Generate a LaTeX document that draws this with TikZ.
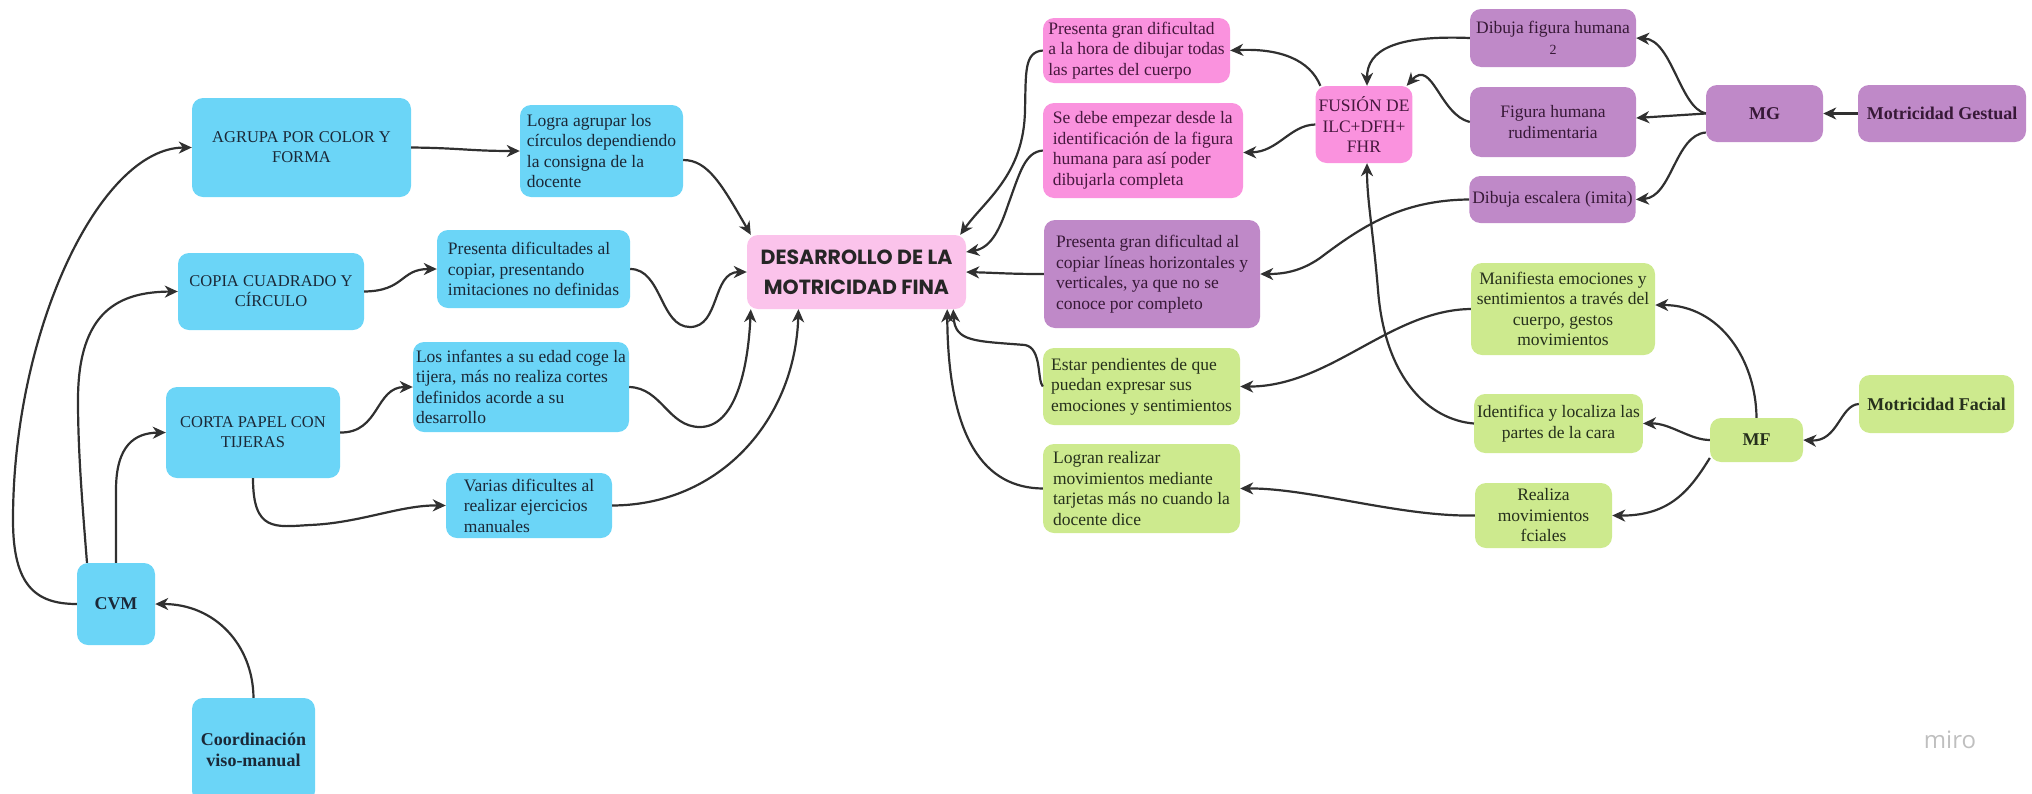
\documentclass[tikz,border=0pt]{standalone}
\usepackage{fontspec}
\setmainfont{Liberation Serif}
\newfontfamily\titlefont{Poppins}
\newfontfamily\mirofont{Open Sans}
\usetikzlibrary{arrows.meta}
\definecolor{cblue}{RGB}{107,213,247}
\definecolor{cpink}{RGB}{251,195,235}
\definecolor{chot}{RGB}{250,146,222}
\definecolor{cpurple}{RGB}{191,137,200}
\definecolor{cgreen}{RGB}{205,234,142}
\definecolor{cline}{RGB}{48,48,48}
\definecolor{tblue}{RGB}{27,40,55}
\definecolor{tpink}{RGB}{70,24,62}
\definecolor{tpurple}{RGB}{55,25,55}
\definecolor{tgreen}{RGB}{38,48,28}
\tikzset{
  box/.style={rounded corners=11pt, inner sep=3pt, align=center, anchor=center,
    font=\fontsize{17.5}{20.5}\selectfont},
  leftt/.style={align=left},
  capf/.style={font=\fontsize{16.5}{20}\selectfont},
  boldf/.style={font=\bfseries\fontsize{18}{21}\selectfont},
  bluebox/.style={box, fill=cblue, text=tblue},
  pinkbox/.style={box, fill=cpink, text=black!85},
  hotbox/.style={box, fill=chot, text=tpink},
  purplebox/.style={box, fill=cpurple, text=tpurple},
  greenbox/.style={box, fill=cgreen, text=tgreen},
  arr/.style={draw=cline, line width=2.2pt, -{Stealth[length=13pt,width=12pt,inset=4pt]}},
}
\begin{document}
\begin{tikzpicture}[x=1pt,y=-1pt]
\useasboundingbox (0,0) rectangle (2032,793);
% ---------- blue (left) ----------
\node[bluebox,capf,minimum width=219pt,minimum height=99pt] (agrupa) at (301.5,147.5) {AGRUPA POR COLOR Y\\FORMA};
\node[bluebox,leftt,minimum width=163pt,minimum height=92pt] (logra) at (601.5,151) {Logra agrupar los\\círculos dependiendo\\la consigna de la\\docente};
\node[bluebox,capf,minimum width=186pt,minimum height=77pt] (copia) at (271,291.5) {COPIA CUADRADO Y\\CÍRCULO};
\node[bluebox,leftt,minimum width=193pt,minimum height=78pt] (presdif) at (533.5,269) {Presenta dificultades al\\copiar, presentando\\imitaciones no definidas};
\node[bluebox,capf,minimum width=174pt,minimum height=91pt] (corta) at (253,432.5) {CORTA PAPEL CON\\TIJERAS};
\node[bluebox,leftt,minimum width=216pt,minimum height=90pt] (infantes) at (521,387) {Los infantes a su edad coge la\\tijera, más no realiza cortes\\definidos acorde a su\\desarrollo};
\node[bluebox,leftt,minimum width=166pt,minimum height=65pt] (varias) at (529,505.5) {Varias dificultes al\\realizar ejercicios\\manuales};
\node[bluebox,boldf,minimum width=78pt,minimum height=82pt] (cvm) at (116,604) {CVM};
\node[bluebox,boldf,minimum width=123pt,minimum height=104pt] (coord) at (253.5,750) {Coordinación\\viso-manual};
% ---------- centre ----------
\node[pinkbox,font=\titlefont\bfseries\fontsize{20.5}{30}\selectfont,inner sep=2pt,minimum width=219pt,minimum height=74pt] (desarrollo) at (856.5,272) {DESARROLLO DE LA\\MOTRICIDAD FINA};
% ---------- pink ----------
\node[hotbox,leftt,minimum width=187pt,minimum height=65pt] (preshora) at (1136.5,50.5) {Presenta gran dificultad\\a la hora de dibujar todas\\las partes del cuerpo};
\node[hotbox,leftt,minimum width=200pt,minimum height=95pt] (sedebe) at (1143,150.5) {Se debe empezar desde la\\identificación de la figura\\humana para así poder\\dibujarla completa};
\node[hotbox,minimum width=94pt,minimum height=77pt] (fusion) at (1364,124.5) {FUSIÓN DE\\ILC+DFH+\\FHR};
% ---------- purple ----------
\node[purplebox,leftt,minimum width=216pt,minimum height=108pt] (preslin) at (1152,274) {Presenta gran dificultad al\\copiar líneas horizontales y\\verticales, ya que no se\\conoce por completo};
\node[purplebox,minimum width=166pt,minimum height=58pt] (dibfig) at (1553,38) {Dibuja figura humana\\{\fontsize{14}{14}\selectfont 2}};
\node[purplebox,minimum width=166pt,minimum height=70pt] (figrud) at (1553,122) {Figura humana\\rudimentaria};
\node[purplebox,minimum width=165pt,minimum height=47pt] (escal) at (1552.5,199.5) {Dibuja escalera (imita)};
\node[purplebox,boldf,minimum width=117pt,minimum height=57pt] (mg) at (1764.5,113.5) {MG};
\node[purplebox,boldf,minimum width=168pt,minimum height=57pt] (motges) at (1942,113.5) {Motricidad Gestual};
% ---------- green ----------
\node[greenbox,minimum width=184pt,minimum height=92pt] (manif) at (1563,309) {Manifiesta emociones y\\sentimientos a través del\\cuerpo, gestos\\movimientos};
\node[greenbox,leftt,minimum width=197pt,minimum height=77pt] (estar) at (1141.5,386.5) {Estar pendientes de que\\puedan expresar sus\\emociones y sentimientos};
\node[greenbox,minimum width=167pt,minimum height=59pt] (ident) at (1558.5,423.5) {Identifica y localiza las\\partes de la cara};
\node[greenbox,boldf,minimum width=93pt,minimum height=44pt] (mf) at (1756.5,440) {MF};
\node[greenbox,boldf,minimum width=155pt,minimum height=58pt] (motfac) at (1936.5,404) {Motricidad Facial};
\node[greenbox,leftt,minimum width=197pt,minimum height=89pt] (logran) at (1141.5,488.5) {Logran realizar\\movimientos mediante\\tarjetas más no cuando la\\docente dice};
\node[greenbox,minimum width=137pt,minimum height=65pt] (realiza) at (1543.5,515.5) {Realiza\\movimientos\\fciales};
% ---------- logo ----------
\node[font=\mirofont\fontsize{24}{24}\selectfont, text=black!25] (miro) at (1950,740) {miro};
% ---------- connectors: left ----------
\draw[arr] (cvm.west) .. controls (35,604) and (13,585) .. (13,520) .. controls (13,330) and (100,148) .. (agrupa.west);
\draw[arr] ([xshift=-29pt]cvm.north) .. controls (82,500) and (78,450) .. (78,400) .. controls (78,310) and (120,292) .. (copia.west);
\draw[arr] (cvm.north) -- (116,490) .. controls (116,445) and (135,433) .. (corta.west);
\draw[arr] (coord.north) .. controls (253,645) and (215,604) .. (cvm.east);
\draw[arr] (agrupa.east) .. controls (460,148) and (470,151) .. (logra.west);
\draw[arr] (copia.east) .. controls (405,291) and (400,269) .. (presdif.west);
\draw[arr] (corta.east) .. controls (380,433) and (375,387) .. (infantes.west);
\draw[arr] (corta.south) .. controls (253,532) and (275,527) .. (310,525) .. controls (360,523) and (400,505) .. (varias.west);
\draw[arr] ([yshift=-9pt]logra.east) .. controls (708,160) and (722,185) .. ([xshift=4pt]desarrollo.north west);
\draw[arr] (presdif.east) .. controls (662,269) and (660,327) .. (690,327) .. controls (720,327) and (712,272) .. (desarrollo.west);
\draw[arr] (infantes.east) .. controls (662,388) and (668,427) .. (700,427) .. controls (735,427) and (748,370) .. ([xshift=4pt]desarrollo.south west);
\draw[arr] (varias.east) .. controls (720,505) and (795,420) .. ([xshift=-58pt]desarrollo.south);
% ---------- connectors: right into centre ----------
\draw[arr] (preshora.west) .. controls (1024,52) and (1026,72) .. (1025,110) .. controls (1024,175) and (985,200) .. ([xshift=-6pt]desarrollo.north east);
\draw[arr] (sedebe.west) .. controls (1025,152) and (1020,172) .. (1008,205) .. controls (999,232) and (990,248) .. ([yshift=20pt]desarrollo.east);
\draw[arr] (preslin.west) .. controls (1010,274) and (1000,273) .. (desarrollo.east);
\draw[arr] (estar.west) .. controls (1037,380) and (1042,348) .. (1025,345) .. controls (975,341) and (955,342) .. ([xshift=-13pt]desarrollo.south east);
\draw[arr] (logran.west) .. controls (985,488) and (948,440) .. ([xshift=-19pt]desarrollo.south east);
% ---------- connectors: fusion ----------
\draw[arr] ([xshift=5pt]fusion.north west) .. controls (1310,60) and (1280,48) .. (preshora.east);
\draw[arr] (fusion.west) .. controls (1290,125) and (1278,152) .. ([yshift=-2pt]sedebe.east);
\draw[arr] (dibfig.west) .. controls (1395,35) and (1367,50) .. ([xshift=3pt]fusion.north);
\draw[arr] (figrud.west) .. controls (1440,115) and (1432,58) .. ([xshift=-6pt]fusion.north east);
\draw[arr] (ident.west) .. controls (1430,420) and (1385,380) .. (1378,290) .. controls (1373,230) and (1367,200) .. ([xshift=3pt]fusion.south);
\draw[arr] (escal.west) .. controls (1400,200) and (1360,228) .. (1320,258) .. controls (1300,272) and (1282,274) .. (preslin.east);
% ---------- connectors: MG ----------
\draw[arr] (motges.west) -- (mg.east);
\draw[arr] (mg.west) .. controls (1680,108) and (1672,40) .. (dibfig.east);
\draw[arr] (mg.west) -- ([yshift=4pt]figrud.east);
\draw[arr] ([yshift=-19pt]mg.west) .. controls (1675,135) and (1672,197) .. (escal.east);
% ---------- connectors: MF ----------
\draw[arr] (motfac.west) .. controls (1840,405) and (1838,442) .. (mf.east);
\draw[arr] (mf.north) .. controls (1756,360) and (1720,305) .. ([yshift=4pt]manif.east);
\draw[arr] (mf.west) .. controls (1690,440) and (1670,423) .. (ident.east);
\draw[arr] ([yshift=-18pt]mf.west) .. controls (1690,490) and (1670,516) .. (realiza.east);
\draw[arr] (manif.west) .. controls (1390,310) and (1330,387) .. (estar.east);
\draw[arr] (realiza.west) .. controls (1400,517) and (1310,488) .. (logran.east);
\end{tikzpicture}
\end{document}
